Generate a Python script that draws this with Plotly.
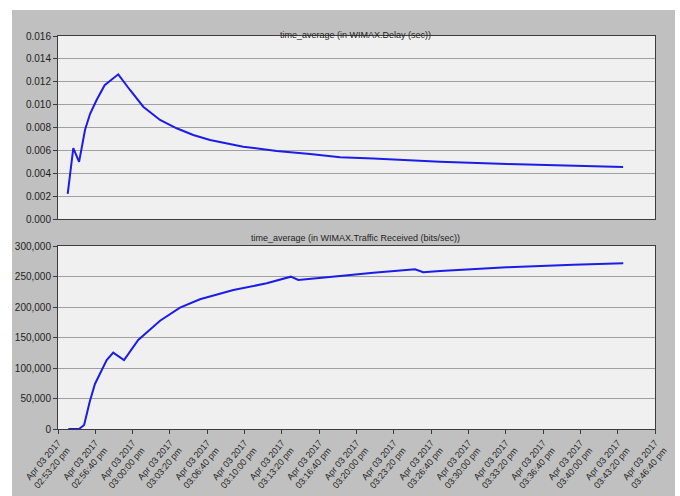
import plotly.graph_objects as go

# WIMAX delay, time-averaged (sec)
delay_time = [
    "2017-04-03 14:54:12", "2017-04-03 14:54:42", "2017-04-03 14:55:13",
    "2017-04-03 14:55:45", "2017-04-03 14:56:12", "2017-04-03 14:56:47",
    "2017-04-03 14:57:30", "2017-04-03 14:58:43", "2017-04-03 14:59:46",
    "2017-04-03 15:00:57", "2017-04-03 15:02:27", "2017-04-03 15:03:56",
    "2017-04-03 15:05:25", "2017-04-03 15:06:55", "2017-04-03 15:09:53",
    "2017-04-03 15:12:52", "2017-04-03 15:15:51", "2017-04-03 15:18:32",
    "2017-04-03 15:21:29", "2017-04-03 15:27:28", "2017-04-03 15:33:27",
    "2017-04-03 15:39:21", "2017-04-03 15:43:49",
]
delay_value = [
    0.0022, 0.0062, 0.0050,
    0.0078, 0.0092, 0.0104,
    0.0117, 0.01265, 0.01128,
    0.00982, 0.00866, 0.00793,
    0.00734, 0.00691, 0.00632,
    0.00595, 0.00568, 0.0054,
    0.0053, 0.0050, 0.0048,
    0.00466, 0.00455,
]

# WIMAX traffic received, time-averaged (bits/sec)
traffic_time = [
    "2017-04-03 14:54:15", "2017-04-03 14:55:13", "2017-04-03 14:55:40",
    "2017-04-03 14:56:10", "2017-04-03 14:56:38", "2017-04-03 14:57:14",
    "2017-04-03 14:57:41", "2017-04-03 14:58:16", "2017-04-03 14:59:14",
    "2017-04-03 15:00:30", "2017-04-03 15:02:27", "2017-04-03 15:04:14",
    "2017-04-03 15:06:01", "2017-04-03 15:09:00", "2017-04-03 15:11:59",
    "2017-04-03 15:14:08", "2017-04-03 15:14:48", "2017-04-03 15:18:32",
    "2017-04-03 15:21:30", "2017-04-03 15:25:14", "2017-04-03 15:25:58",
    "2017-04-03 15:27:28", "2017-04-03 15:33:25", "2017-04-03 15:39:22",
    "2017-04-03 15:43:50",
]
traffic_value = [
    0, 0, 6600,
    44800, 73800, 96700,
    113100, 125100, 113100,
    145900, 177500, 198900,
    212600, 227900, 238800,
    249700, 244300, 250800,
    256300, 261800, 257000,
    259000, 265000, 269300,
    271600,
]

tick_times = [
    "2017-04-03 14:53:20", "2017-04-03 14:56:40", "2017-04-03 15:00:00",
    "2017-04-03 15:03:20", "2017-04-03 15:06:40", "2017-04-03 15:10:00",
    "2017-04-03 15:13:20", "2017-04-03 15:16:40", "2017-04-03 15:20:00",
    "2017-04-03 15:23:20", "2017-04-03 15:26:40", "2017-04-03 15:30:00",
    "2017-04-03 15:33:20", "2017-04-03 15:36:40", "2017-04-03 15:40:00",
    "2017-04-03 15:43:20", "2017-04-03 15:46:40",
]
tick_labels = [
    "Apr 03 2017<br>" + t for t in [
        "02:53:20 pm", "02:56:40 pm", "03:00:00 pm", "03:03:20 pm",
        "03:06:40 pm", "03:10:00 pm", "03:13:20 pm", "03:16:40 pm",
        "03:20:00 pm", "03:23:20 pm", "03:26:40 pm", "03:30:00 pm",
        "03:33:20 pm", "03:36:40 pm", "03:40:00 pm", "03:43:20 pm",
        "03:46:40 pm",
    ]
]

titles = [
    "time_average (in WIMAX.Delay (sec))",
    "time_average (in WIMAX.Traffic Received (bits/sec))",
]

W, H = 680, 496
FONT = "Liberation Sans"
LINE = "#1c1ce8"
PANEL = "#c0c0c0"
PLOT_BG = "#f0f0f0"
GRID = "#a0a0a0"
AXIS = "#3c3c3c"
TEXT = "#1e1e1e"

fig = go.Figure()
fig.add_trace(go.Scatter(x=delay_time, y=delay_value, mode="lines",
                         line=dict(color=LINE, width=2), xaxis="x", yaxis="y"))
fig.add_trace(go.Scatter(x=traffic_time, y=traffic_value, mode="lines",
                         line=dict(color=LINE, width=2), xaxis="x2", yaxis="y2"))

x_dom = [58 / W, 655 / W]
top_dom = [1 - 219 / H, 1 - 36 / H]
bot_dom = [1 - 429 / H, 1 - 246 / H]
x_range = [tick_times[0], tick_times[-1]]

common_x = dict(domain=x_dom, range=x_range, type="date", showgrid=False,
                showline=True, linecolor=AXIS, linewidth=1, mirror=True,
                zeroline=False, automargin=False)
common_y = dict(showgrid=True, gridcolor=GRID, gridwidth=1, showline=True,
                linecolor=AXIS, linewidth=1, mirror=True, zeroline=False,
                automargin=False, ticks="outside", ticklen=4, tickcolor=AXIS,
                tickfont=dict(family=FONT, size=10, color=TEXT))

# white strips around the grey panel
strips = [(0, 12, 0, H), (675, W, 0, H), (0, W, 0, 10)]
shapes = [dict(type="rect", xref="paper", yref="paper", layer="below",
               x0=a / W, x1=b / W, y0=1 - d / H, y1=1 - c / H,
               fillcolor="white", line=dict(width=0))
          for a, b, c, d in strips]

fig.update_layout(
    width=W, height=H,
    margin=dict(l=0, r=0, t=0, b=0),
    paper_bgcolor=PANEL,
    plot_bgcolor=PLOT_BG,
    showlegend=False,
    xaxis=dict(common_x, anchor="y", showticklabels=False, ticks=""),
    yaxis=dict(common_y, domain=top_dom, anchor="x", range=[0, 0.016],
               dtick=0.002, tickformat=".3f"),
    xaxis2=dict(common_x, anchor="y2", tickvals=tick_times, ticktext=tick_labels,
                ticks="outside", ticklen=4, tickcolor=AXIS, tickangle=-50,
                tickfont=dict(family=FONT, size=9, color=TEXT)),
    yaxis2=dict(common_y, domain=bot_dom, anchor="x2", range=[0, 300000],
                dtick=50000, tickformat=",d"),
    shapes=shapes,
    annotations=[
        dict(text=titles[0], xref="paper", yref="paper", x=355 / W, y=1 - 28 / H,
             showarrow=False, font=dict(family=FONT, size=9, color=TEXT)),
        dict(text=titles[1], xref="paper", yref="paper", x=355 / W, y=1 - 238 / H,
             showarrow=False, font=dict(family=FONT, size=9, color=TEXT)),
    ],
)

fig.write_html("out.html")
